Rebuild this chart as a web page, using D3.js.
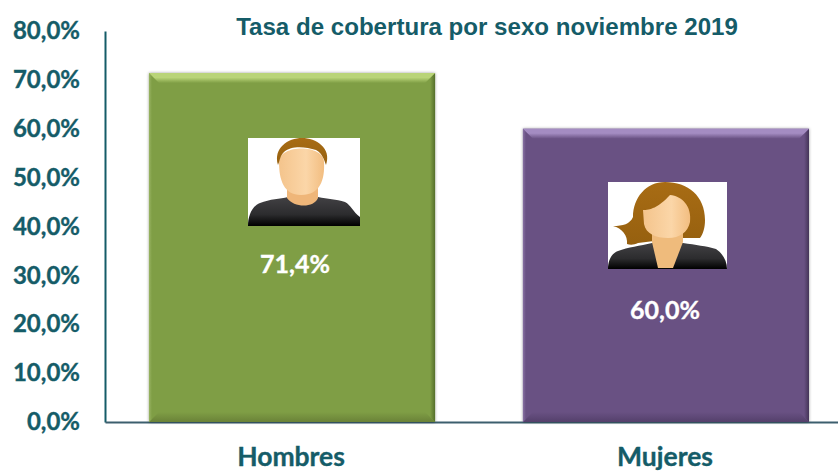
<!DOCTYPE html>
<html>
<head>
<meta charset="utf-8">
<script src="https://cdnjs.cloudflare.com/ajax/libs/d3/7.8.5/d3.min.js"></script>
<style>
	html, body { margin: 0; padding: 0; background: #fff; }
	svg { display: block; }
	text { font-family: Lato, "Open Sans", sans-serif; font-weight: 700; stroke-width: 0.35px; paint-order: stroke; }
</style>
</head>
<body>
<svg id="chart" width="838" height="473"></svg>
<script>
const titleText = 'Tasa de cobertura por sexo noviembre 2019';
const categories = ['Hombres', 'Mujeres'];
const values = [71.4, 60.0];
const valueLabels = ['71,4%', '60,0%'];
const yTicks = [0, 10, 20, 30, 40, 50, 60, 70, 80];

const tealColor = '#155c68';
const barColors = { Hombres: '#7f9e45', Mujeres: '#695183' };
const bevelColors = {
	Hombres: { top: '#b9d478', left: '#98b362', right: '#556f2b', bottom: '#6a8238' },
	Mujeres: { top: '#a48cc2', left: '#8770a2', right: '#443458', bottom: '#54406b' }
};
const bevel = 10;

const svg = d3.select('#chart');
const defs = svg.append('defs');

const yScale = d3.scaleLinear().domain([0, 80]).range([422, 31]);
const xScale = d3.scaleBand()
	.domain(categories)
	.range([105, 853])
	.paddingInner(0.235)
	.paddingOuter(0.1176);

// shadow round the bars
const shadow = defs.append('filter')
	.attr('id', 'barShadow')
	.attr('x', '-5%').attr('y', '-5%')
	.attr('width', '110%').attr('height', '110%');
shadow.append('feDropShadow')
	.attr('dx', 0).attr('dy', 0)
	.attr('stdDeviation', 1.4)
	.attr('flood-color', '#000')
	.attr('flood-opacity', 0.4);

function addGradient(id, stops, x2, y2) {
	const gradient = defs.append('linearGradient')
		.attr('id', id)
		.attr('x1', 0).attr('y1', 0)
		.attr('x2', x2).attr('y2', y2);
	stops.forEach(function(stop) {
		gradient.append('stop').attr('offset', stop[0]).attr('stop-color', stop[1]);
	});
}

// gradients used by the two icons
addGradient('shirt', [[0, '#424144'], [0.6, '#2c2c2e'], [1, '#000']], 0, 1);
addGradient('skin', [[0, '#f4c48c'], [0.6, '#fbd6a8'], [1, '#f2bd80']], 1, 0);
addGradient('hair', [[0, '#a86c14'], [1, '#96600f']], 0, 1);

// bevel gradients, each fading into the bar colour
categories.forEach(function(d) {
	addGradient('top' + d, [[0, bevelColors[d].top], [0.45, bevelColors[d].top], [1, barColors[d]]], 0, 1);
	addGradient('bottom' + d, [[0, barColors[d]], [1, bevelColors[d].bottom]], 0, 1);
	addGradient('left' + d, [[0, bevelColors[d].left], [1, barColors[d]]], 1, 0);
	addGradient('right' + d, [[0, barColors[d]], [1, bevelColors[d].right]], 1, 0);
});

// axes
const yAxis = d3.axisLeft(yScale)
	.tickValues(yTicks)
	.tickSize(0)
	.tickPadding(25)
	.tickFormat(function(d) { return d3.format('.1f')(d).replace('.', ',') + '%'; });

const yAxisGroup = svg.append('g')
	.attr('transform', 'translate(105,0)')
	.call(yAxis);
yAxisGroup.select('.domain').attr('stroke', tealColor).attr('stroke-width', 2);
yAxisGroup.selectAll('text')
	.attr('fill', tealColor)
	.attr('stroke', tealColor)
	.style('font-size', '24px');

const xAxis = d3.axisBottom(xScale).tickSize(0).tickPadding(25);
const xAxisGroup = svg.append('g')
	.attr('transform', 'translate(0,422)')
	.call(xAxis);
xAxisGroup.select('.domain').attr('stroke', '#3c5f6e').attr('stroke-width', 2);
xAxisGroup.selectAll('text')
	.attr('fill', tealColor)
	.attr('stroke', tealColor)
	.attr('dx', -1)
	.style('font-size', '26.5px');

// bars
const bars = svg.append('g').selectAll('g')
	.data(categories)
	.join('g')
	.attr('class', 'bar');

bars.append('rect')
	.attr('x', function(d) { return xScale(d); })
	.attr('y', function(d, i) { return yScale(values[i]); })
	.attr('width', xScale.bandwidth())
	.attr('height', function(d, i) { return yScale(0) - yScale(values[i]); })
	.attr('fill', function(d) { return barColors[d]; })
	.attr('filter', 'url(#barShadow)');

// bevel strips along the four edges
function bevelPoints(d, i, side) {
	const x0 = xScale(d);
	const x1 = x0 + xScale.bandwidth();
	const y0 = yScale(values[i]);
	const y1 = yScale(0);
	const corners = {
		top: [[x0, y0], [x1, y0], [x1 - bevel, y0 + bevel], [x0 + bevel, y0 + bevel]],
		left: [[x0, y0], [x0 + 3, y0 + 3], [x0 + 3, y1 - 3], [x0, y1]],
		right: [[x1, y0], [x1 - 5, y0 + 5], [x1 - 5, y1 - 5], [x1, y1]],
		bottom: [[x0, y1], [x0 + bevel, y1 - bevel], [x1 - bevel, y1 - bevel], [x1, y1]]
	};
	return corners[side].join(' ');
}

['bottom', 'left', 'right', 'top'].forEach(function(side) {
	bars.append('polygon')
		.attr('points', function(d, i) { return bevelPoints(d, i, side); })
		.attr('fill', function(d) { return 'url(#' + side + d + ')'; });
});

// value labels
const labelOffsets = [[3, 25], [-1, 44]];
bars.append('text')
	.attr('x', function(d, i) { return xScale(d) + xScale.bandwidth() / 2 + labelOffsets[i][0]; })
	.attr('y', function(d, i) { return (yScale(values[i]) + yScale(0)) / 2 + labelOffsets[i][1]; })
	.attr('text-anchor', 'middle')
	.attr('fill', '#fff')
	.attr('stroke', '#fff')
	.style('font-size', '25px')
	.text(function(d, i) { return valueLabels[i]; });

// icons, drawn in their own local coordinates
function drawMan(group) {
	group.append('rect').attr('width', 112).attr('height', 88).attr('fill', '#fff');
	group.append('path').attr('fill', 'url(#shirt)')
		.attr('d', 'M0,88 C0,78 4,68 12,65 C22,61 32,61 40,59 L70,59 C80,61 88,61 97,64 C103,67 105,74 112,79 L112,88 Z');
	group.append('path').attr('fill', '#efb679')
		.attr('d', 'M39,50 L70,50 L70,60 C66,70 46,70 39,60 Z');
	group.append('path').attr('fill', 'url(#skin)')
		.attr('d', 'M31,24 C31,6 76,6 76,24 C77,42 72,57 53,57 C36,57 31,42 31,24 Z');
	group.append('path').attr('fill', 'url(#hair)')
		.attr('d', 'M30,27 C25,10 40,0 54,0 C68,0 84,10 78,27 C76,22 75,16 68,12 C58,9 44,7 36,14 C32,18 32,22 30,27 Z');
}

function drawWoman(group) {
	group.append('rect').attr('width', 119).attr('height', 87).attr('fill', '#fff');
	group.append('path').attr('fill', 'url(#hair)')
		.attr('d', 'M57,0 C80,0 97,14 97,38 C97,46 95,52 92,56 L70,56 L30,61 C26,63 22,63 19,62 C20,54 14,46 5,44 C15,44 22,42 25,35 C25,16 38,0 57,0 Z');
	group.append('path').attr('fill', 'url(#shirt)')
		.attr('d', 'M0,87 C0,78 4,71 10,69 C20,65 32,64 44,61 L75,61 C88,63 98,64 108,67 C114,71 119,78 119,87 Z');
	group.append('path').attr('fill', '#efbb7c')
		.attr('d', 'M44,48 L75,50 L75,60 L65,86 L50,86 L44,60 Z');
	group.append('path').attr('fill', 'url(#skin)')
		.attr('d', 'M35,28 C42,28 50,26 62,13 C74,14 84,24 82,40 C80,50 72,56 60,56 C48,56 38,52 36,42 Z');
}

const iconPositions = [[248, 138], [608, 182]];
drawMan(svg.append('g').attr('transform', 'translate(' + iconPositions[0] + ')'));
drawWoman(svg.append('g').attr('transform', 'translate(' + iconPositions[1] + ')'));

// title
svg.append('text')
	.attr('x', 487)
	.attr('y', 35)
	.attr('text-anchor', 'middle')
	.attr('fill', tealColor)
	.style('font-family', '"Liberation Sans", Arial, sans-serif')
	.style('font-size', '24.1px')
	.style('stroke-width', 0)
	.text(titleText);
</script>
</body>
</html>
